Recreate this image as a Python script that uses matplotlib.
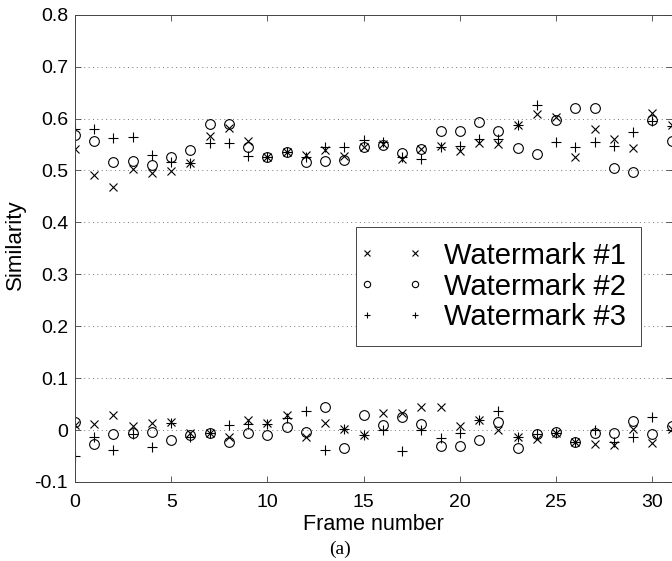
import matplotlib
matplotlib.use("Agg")
import matplotlib.pyplot as plt
from matplotlib.ticker import FuncFormatter
from matplotlib.legend_handler import HandlerLine2D
from matplotlib.lines import Line2D

frames = list(range(32))

wm1_high = [0.541, 0.491, 0.468, 0.503, 0.495, 0.499, 0.514, 0.567, 0.582, 0.556,
            0.526, 0.536, 0.529, 0.539, 0.528, 0.545, 0.551, 0.523, 0.542, 0.547,
            0.538, 0.552, 0.551, 0.587, 0.609, 0.603, 0.525, 0.579, 0.561, 0.544,
            0.611, 0.587]
wm2_high = [0.569, 0.556, 0.517, 0.519, 0.510, 0.526, 0.540, 0.589, 0.590, 0.545,
            0.526, 0.536, 0.517, 0.519, 0.521, 0.545, 0.549, 0.534, 0.542, 0.576,
            0.576, 0.593, 0.576, 0.544, 0.531, 0.598, 0.621, 0.621, 0.504, 0.497,
            0.598, 0.557]
wm3_high = [0.579, 0.579, 0.563, 0.565, 0.530, 0.517, 0.514, 0.553, 0.552, 0.528,
            0.526, 0.536, 0.525, 0.545, 0.545, 0.558, 0.555, 0.525, 0.523, 0.545,
            0.547, 0.561, 0.561, 0.587, 0.627, 0.555, 0.545, 0.555, 0.547, 0.574,
            0.595, 0.585]

wm1_low = [0.009, 0.011, 0.029, 0.007, 0.014, 0.016, -0.005, -0.006, -0.014, 0.019,
           0.014, 0.029, -0.013, 0.014, 0.002, -0.009, 0.033, 0.033, 0.044, 0.044,
           0.008, 0.019, 0.000, -0.014, -0.018, -0.006, -0.023, -0.027, -0.029, 0.002,
           -0.025, 0.003]
wm2_low = [0.016, -0.026, -0.008, -0.006, -0.003, -0.019, -0.010, -0.006, -0.023, -0.005,
           -0.010, 0.005, -0.004, 0.044, -0.035, 0.029, 0.009, 0.026, 0.011, -0.030,
           -0.030, -0.019, 0.016, -0.035, -0.008, -0.004, -0.023, -0.006, -0.006, 0.018,
           -0.008, 0.007]
wm3_low = [-0.049, -0.014, -0.038, -0.008, -0.032, 0.014, -0.014, -0.006, 0.009, 0.011,
           0.012, 0.024, 0.037, -0.038, 0.002, -0.009, 0.000, -0.040, 0.000, -0.016,
           -0.005, 0.019, 0.037, -0.014, -0.008, -0.006, -0.023, 0.000, -0.023, -0.014,
           0.026, 0.000]

labels = ["Watermark #1", "Watermark #2", "Watermark #3"]
markers = ["x", "o", "+"]
y_ticks = [-0.1, 0, 0.1, 0.2, 0.3, 0.4, 0.5, 0.6, 0.7, 0.8]
x_ticks = [0, 5, 10, 15, 20, 25, 30]

plt.rcParams["font.family"] = ["Liberation Sans", "DejaVu Sans"]
plt.rcParams["axes.unicode_minus"] = False

fig = plt.figure(figsize=(6.72, 5.61), dpi=100)
ax = fig.add_axes([75 / 672, 1 - 482 / 561, (671.7 - 75) / 672, (482 - 14.7) / 561])

series = [(wm1_high, wm1_low), (wm2_high, wm2_low), (wm3_high, wm3_low)]
sizes = {"x": 6, "o": 7, "+": 7.5}
handles = []
for (hi, lo), m, lab in zip(series, markers, labels):
    kw = dict(linestyle="none", marker=m, ms=sizes[m], mew=0.8,
              mec="black", mfc="none", color="black")
    h, = ax.plot(frames, hi, label=lab, **kw)
    ax.plot(frames, lo, **kw)
    handles.append(h)

ax.set_xlim(0, 31)
ax.set_ylim(-0.1, 0.8)
ax.set_xticks(x_ticks)
ax.set_yticks(y_ticks)
ax.yaxis.set_major_formatter(FuncFormatter(lambda v, p: "%g" % round(v, 3)))
ax.tick_params(direction="in", length=4, width=0.6, top=True, right=True,
               labelsize=14, colors="#444444", labelcolor="black")
ax.tick_params(axis="x", pad=8.5)
ax.tick_params(axis="y", pad=5)
ax.grid(axis="y", linestyle=(0, (1, 3.5)), color="#777777", linewidth=0.7)
for s in ax.spines.values():
    s.set_color("#444444")
    s.set_linewidth(0.7)

ax.set_xlabel("Frame number", fontsize=15.5)
ax.xaxis.set_label_coords(0.5, (482 - 524.5) / 467.3)
ax.xaxis.label.set_va("center")
ax.set_ylabel("Similarity", fontsize=16)
ax.yaxis.set_label_coords((15 - 75) / 596.7, (482 - 244.5) / 467.3)
ax.yaxis.label.set_va("center")

leg = ax.legend(handles=handles, loc="upper left",
                bbox_to_anchor=(356 / 672, 1 - 227 / 561),
                bbox_transform=fig.transFigure, borderaxespad=0,
                fontsize=21, numpoints=2, markerscale=0.65,
                handlelength=1.37, handletextpad=1.15, borderpad=0.5,
                labelspacing=0.1, fancybox=False, framealpha=1,
                edgecolor="#444444",
                handler_map={Line2D: HandlerLine2D(marker_pad=-0.14)})
leg.get_frame().set_linewidth(0.7)

fig.text(340 / 672, 1 - 549 / 561, "(a)", family=["Liberation Serif", "DejaVu Serif"],
         fontsize=14, ha="center", va="center")

fig.savefig("out.png", dpi=100)
